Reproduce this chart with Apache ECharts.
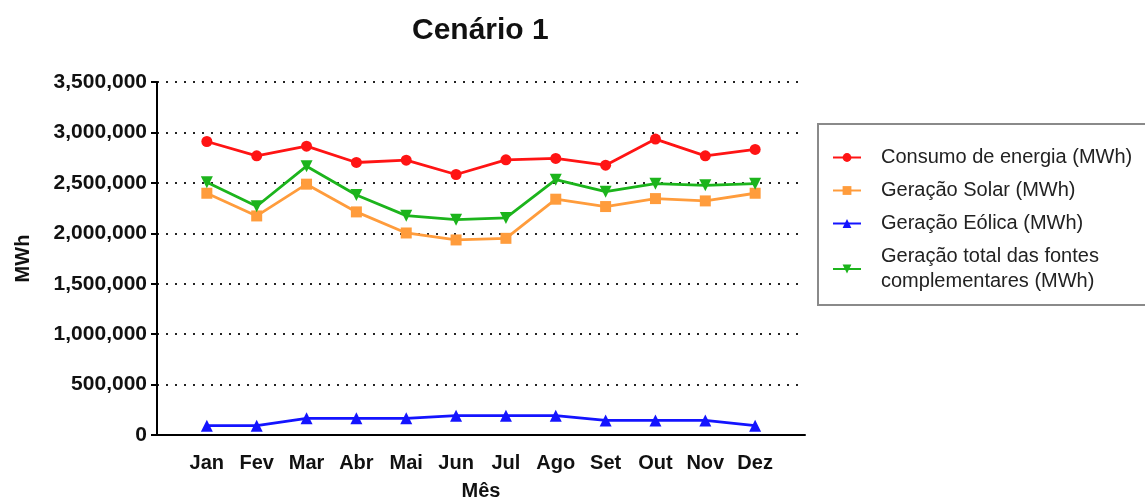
<!DOCTYPE html>
<html>
<head>
<meta charset="utf-8">
<script src="https://cdn.jsdelivr.net/npm/echarts@6/dist/echarts.min.js"></script>
<style>
  html, body { margin: 0; padding: 0; background: #fff; }
  #chart { width: 1145px; height: 500px; }
</style>
</head>
<body>
<div id="chart"></div>
<script>
// Monthly energy figures (MWh)
const months = ['Jan', 'Fev', 'Mar', 'Abr', 'Mai', 'Jun', 'Jul', 'Ago', 'Set', 'Out', 'Nov', 'Dez'];
const consumo = [2910000, 2768000, 2864000, 2702000, 2725000, 2583000, 2728000, 2742000, 2675000, 2934000, 2768000, 2831000];
const solar = [2397000, 2172000, 2487000, 2212000, 2003000, 1934000, 1950000, 2338000, 2265000, 2344000, 2321000, 2397000];
const eolica = [92000, 92000, 165000, 165000, 165000, 192000, 192000, 192000, 145000, 145000, 145000, 92000];
const total = [2505000, 2268000, 2665000, 2380000, 2175000, 2135000, 2152000, 2532000, 2413000, 2492000, 2476000, 2492000];
const yTicks = [0, 500000, 1000000, 1500000, 2000000, 2500000, 3000000, 3500000];

const seriesNames = [
  'Consumo de energia (MWh)',
  'Geração Solar (MWh)',
  'Geração Eólica (MWh)',
  'Geração total das fontes complementares (MWh)'
];

const fontMain = '"Liberation Sans", Arial, sans-serif';

// x positions are month indices so the plot keeps a full slot of space at both ends
const toPoints = arr => arr.map((v, i) => [i, v]);

function lineSeries(name, data, color, symbol, size) {
  return {
    name: name,
    type: 'line',
    data: toPoints(data),
    symbol: symbol,
    symbolSize: size,
    lineStyle: { color: color, width: 2.8 },
    itemStyle: { color: color },
    emphasis: { disabled: true },
    z: 3
  };
}

const chart = echarts.init(document.getElementById('chart'), null, { renderer: 'canvas' });
chart.setOption({
  animation: false,
  backgroundColor: '#fff',
  title: {
    text: 'Cenário 1',
    left: 407,
    top: 11,
    textStyle: {
      fontFamily: fontMain,
      fontWeight: 'bold',
      fontSize: 30,
      color: '#111'
    }
  },
  legend: {
    orient: 'vertical',
    left: 818,
    top: 124,
    padding: [21, 40, 11, 14],
    borderColor: '#8a8a8a',
    borderWidth: 2,
    itemGap: 8,
    itemWidth: 28,
    itemHeight: 11,
    data: seriesNames,
    formatter: name => name === seriesNames[3]
      ? 'Geração total das fontes\ncomplementares (MWh)'
      : name,
    textStyle: {
      fontFamily: fontMain,
      fontSize: 20,
      lineHeight: 25,
      color: '#222',
      padding: [0, 0, 0, 15]
    }
  },
  grid: {
    left: 157,
    right: 340,
    top: 82,
    bottom: 65,
    containLabel: false,
    outerBoundsMode: 'none'
  },
  xAxis: {
    type: 'value',
    min: -1,
    max: 12,
    interval: 1,
    name: 'Mês',
    nameLocation: 'middle',
    nameGap: 46,
    nameTextStyle: { fontFamily: fontMain, fontWeight: 'bold', fontSize: 20, color: '#111' },
    axisLine: { show: true, onZero: false, lineStyle: { color: '#000', width: 2 } },
    axisTick: { show: false },
    splitLine: { show: false },
    axisLabel: {
      margin: 18,
      fontFamily: fontMain,
      fontWeight: 'bold',
      fontSize: 20,
      color: '#111',
      formatter: v => (v >= 0 && v < months.length) ? months[v] : ''
    }
  },
  yAxis: {
    type: 'value',
    min: yTicks[0],
    max: yTicks[yTicks.length - 1],
    interval: yTicks[1] - yTicks[0],
    name: 'MWh',
    nameLocation: 'middle',
    nameGap: 124,
    nameRotate: 90,
    nameTextStyle: { fontFamily: fontMain, fontWeight: 'bold', fontSize: 20, color: '#111' },
    axisLine: { show: true, onZero: false, lineStyle: { color: '#000', width: 2 } },
    axisTick: { show: true, length: 6, lineStyle: { color: '#000', width: 2 } },
    splitLine: {
      show: true,
      lineStyle: { color: '#222', width: 2, type: [2, 7] }
    },
    axisLabel: {
      margin: 10,
      fontFamily: fontMain,
      fontWeight: 'bold',
      fontSize: 21,
      color: '#111',
      formatter: v => v.toLocaleString('en-US')
    }
  },
  series: [
    lineSeries(seriesNames[0], consumo, '#ff1414', 'circle', 11),
    lineSeries(seriesNames[1], solar, '#ff9c3c', 'rect', 11),
    lineSeries(seriesNames[2], eolica, '#1414ff', 'triangle', 12),
    Object.assign(lineSeries(seriesNames[3], total, '#1cb41c', 'triangle', 12), { symbolRotate: 180 })
  ]
});
</script>
</body>
</html>
